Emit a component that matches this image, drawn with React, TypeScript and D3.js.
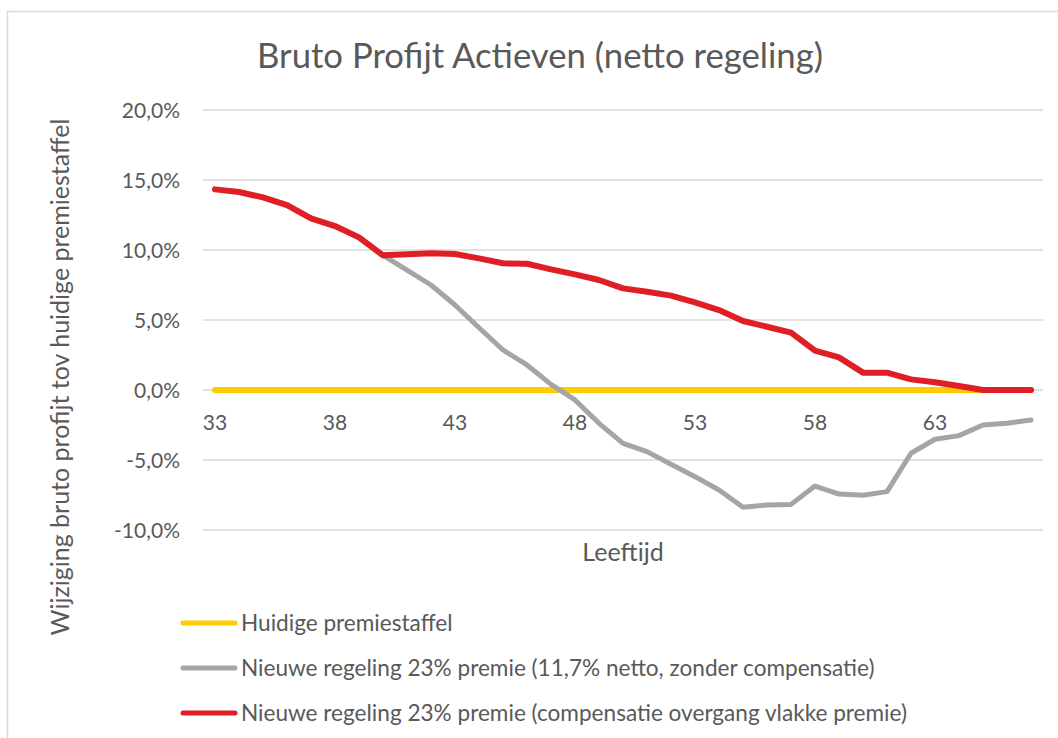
import React, { useEffect, useRef } from 'react';
import * as d3 from 'd3';

const ages = [33, 34, 35, 36, 37, 38, 39, 40, 41, 42, 43, 44, 45, 46, 47, 48, 49, 50,
    51, 52, 53, 54, 55, 56, 57, 58, 59, 60, 61, 62, 63, 64, 65, 66, 67];

const huidige = [0, 0, 0, 0, 0, 0, 0, 0, 0, 0, 0, 0, 0, 0, 0, 0, 0, 0,
    0, 0, 0, 0, 0, 0, 0, 0, 0, 0, 0, 0, 0, 0, 0, 0, 0];

const zonderCompensatie = [14.33, 14.14, 13.76, 13.21, 12.26, 11.71, 10.9, 9.62, 8.57, 7.5,
    6.07, 4.45, 2.86, 1.79, 0.4, -0.71, -2.38, -3.81, -4.4, -5.3, -6.19, -7.14, -8.38, -8.21,
    -8.17, -6.86, -7.43, -7.52, -7.26, -4.52, -3.52, -3.26, -2.5, -2.38, -2.14];

const compensatie = [14.33, 14.14, 13.76, 13.21, 12.26, 11.71, 10.9, 9.62, 9.69, 9.76,
    9.71, 9.4, 9.05, 9.02, 8.62, 8.26, 7.86, 7.26, 7.02, 6.74, 6.26, 5.71, 4.93, 4.52,
    4.1, 2.81, 2.33, 1.24, 1.24, 0.76, 0.55, 0.29, 0, 0, 0];

const yTicks = [-10, -5, 0, 5, 10, 15, 20];
const xTickLabels = [33, 38, 43, 48, 53, 58, 63];

const seriesNames = [
    'Huidige premiestaffel',
    'Nieuwe regeling 23% premie (11,7% netto, zonder compensatie)',
    'Nieuwe regeling 23% premie (compensatie overgang vlakke premie)',
];
const seriesColors = ['#FFCC00', '#A5A5A5', '#E01E25'];

const FONT = 'Lato, "Open Sans", sans-serif';
const TEXT = '#595959';

const App = () => {
    const svgRef = useRef<SVGSVGElement>(null);

    useEffect(() => {
        const width = 1058;
        const height = 738;
        const plot = { left: 203, right: 1043, top: 110, bottom: 530 };

        const svg = d3.select(svgRef.current)
            .attr('width', width)
            .attr('height', height);
        svg.selectAll('*').remove();

        svg.append('rect')
            .attr('width', width).attr('height', height).attr('fill', '#fff');

        // chart border
        svg.append('rect')
            .attr('x', 7.5).attr('y', 11.5)
            .attr('width', 1080).attr('height', 760)
            .attr('fill', 'none')
            .attr('stroke', '#D9D9D9')
            .attr('stroke-width', 1.5);

        const xScale = d3.scalePoint<number>()
            .domain(ages)
            .range([plot.left, plot.right])
            .padding(0.5);

        const yScale = d3.scaleLinear()
            .domain([-10, 20])
            .range([plot.bottom, plot.top]);

        // gridlines
        svg.append('g')
            .selectAll('line')
            .data(yTicks)
            .enter()
            .append('line')
            .attr('x1', plot.left)
            .attr('x2', plot.right)
            .attr('y1', d => yScale(d))
            .attr('y2', d => yScale(d))
            .attr('stroke', '#D9D9D9')
            .attr('stroke-width', 1.5);

        // y labels
        svg.append('g')
            .selectAll('text')
            .data(yTicks)
            .enter()
            .append('text')
            .attr('x', 180)
            .attr('y', d => yScale(d))
            .attr('dy', '0.36em')
            .attr('text-anchor', 'end')
            .style('font-family', FONT)
            .style('font-size', '21px')
            .attr('fill', TEXT)
            .text(d => d3.format('.1f')(d).replace('.', ',').replace('\u2212', '-') + '%');

        // x labels (category axis crosses at 0)
        svg.append('g')
            .selectAll('text')
            .data(xTickLabels)
            .enter()
            .append('text')
            .attr('x', d => xScale(d))
            .attr('y', 430)
            .attr('text-anchor', 'middle')
            .style('font-family', FONT)
            .style('font-size', '21px')
            .attr('fill', TEXT)
            .text(d => d);

        const line = d3.line<number>()
            .x((d, i) => xScale(ages[i]) as number)
            .y(d => yScale(d));

        [huidige, zonderCompensatie, compensatie].forEach((values, i) => {
            svg.append('path')
                .datum(values)
                .attr('d', line)
                .attr('fill', 'none')
                .attr('stroke', seriesColors[i])
                .attr('stroke-width', i === 1 ? 5 : 6)
                .attr('stroke-linecap', 'round')
                .attr('stroke-linejoin', 'round');
        });

        // title
        svg.append('text')
            .attr('x', 540)
            .attr('y', 68)
            .attr('text-anchor', 'middle')
            .style('font-family', FONT)
            .style('font-size', '34.7px')
            .attr('fill', TEXT)
            .text('Bruto Profijt Actieven (netto regeling)');

        // x-axis title
        svg.append('text')
            .attr('x', (plot.left + plot.right) / 2)
            .attr('y', 561)
            .attr('text-anchor', 'middle')
            .style('font-family', FONT)
            .style('font-size', '25px')
            .attr('fill', TEXT)
            .text('Leeftijd');

        // y-axis title
        svg.append('text')
            .attr('transform', 'translate(69,377) rotate(-90)')
            .attr('text-anchor', 'middle')
            .style('font-family', FONT)
            .style('font-size', '25px')
            .attr('fill', TEXT)
            .text('Wijziging bruto profijt tov huidige premiestaffel');

        // legend
        const legend = svg.append('g');
        seriesNames.forEach((name, i) => {
            const y = 623 + i * 45;
            legend.append('line')
                .attr('x1', 183).attr('x2', 235)
                .attr('y1', y).attr('y2', y)
                .attr('stroke', seriesColors[i])
                .attr('stroke-width', 5)
                .attr('stroke-linecap', 'round');
            legend.append('text')
                .attr('x', 241)
                .attr('y', y)
                .attr('dy', '0.35em')
                .style('font-family', FONT)
                .style('font-size', '22.6px')
                .attr('fill', TEXT)
                .text(name);
        });
    }, []);

    return (
        <svg ref={svgRef} style={{ position: 'absolute', left: 0, top: 0 }}></svg>
    );
};

export default App;
